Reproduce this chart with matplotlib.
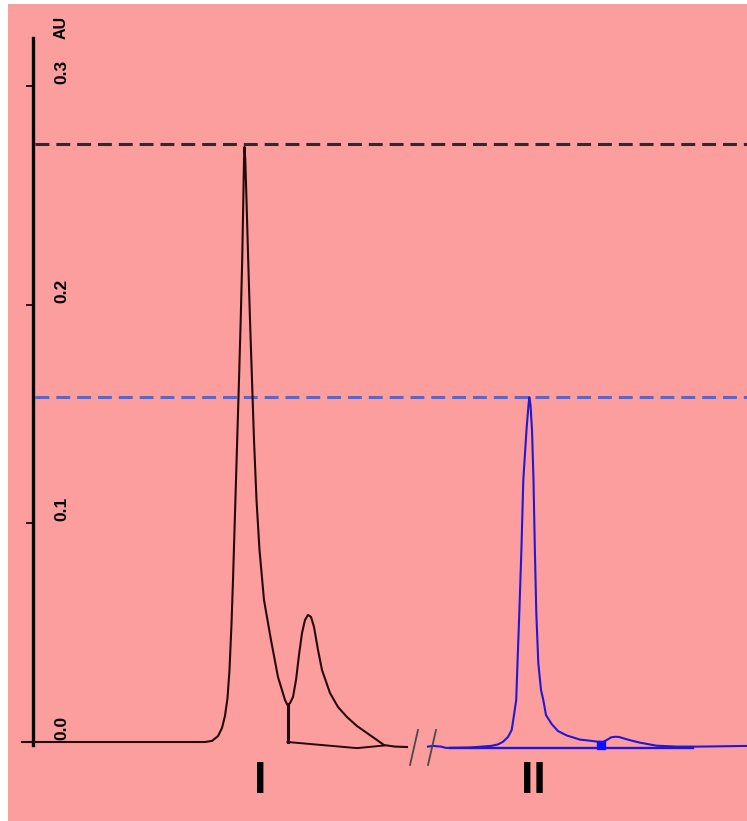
import numpy as np
import matplotlib
matplotlib.use("Agg")
import matplotlib.pyplot as plt
from matplotlib.patches import Rectangle

plt.rcParams['lines.scale_dashes'] = False

# ---------------- data ----------------
# Trace I (black): retention position (arbitrary units) and absorbance (AU)
trace1_x = [22, 100, 180, 205, 212, 218, 222, 225, 227.5, 229.5, 231.5, 233, 234.5,
            236, 237.5, 239, 240.7, 242.2, 243.3, 244, 244.5, 245.3, 246.5, 248.2,
            250, 252, 254, 256.5, 259.5, 264, 271, 278, 285, 287.5, 290, 293, 296,
            299, 302, 305, 308, 311, 314, 318, 322, 330, 338, 347, 357, 367, 377,
            384, 395, 407]
trace1_au = [0.0000, 0.0000, 0.0000, 0.0000, 0.0005, 0.0027, 0.0064, 0.0120, 0.0200,
             0.0330, 0.0540, 0.0741, 0.0969, 0.1198, 0.1427, 0.1655, 0.1930, 0.2204,
             0.2478, 0.2661, 0.2721, 0.2661, 0.2478, 0.2204, 0.1930, 0.1655, 0.1381,
             0.1107, 0.0878, 0.0649, 0.0466, 0.0297, 0.0192, 0.0169, 0.0178, 0.0206,
             0.0283, 0.0398, 0.0498, 0.0558, 0.0581, 0.0572, 0.0526, 0.0421, 0.0329,
             0.0224, 0.0160, 0.0114, 0.0073, 0.0041, 0.0009, -0.0014, -0.0021, -0.0023]
# skimmed baseline under the second peak of trace I
base1_x = [287.5, 357, 384]
base1_au = [0.0000, -0.0028, -0.0016]
# drop line position between the two peaks of trace I
drop1_x = 287.5

# Trace II (blue)
trace2_x = [428, 433, 441, 446, 470, 491, 498, 503, 508, 511.7, 514, 516.2, 517.5,
            519.3, 521.5, 523.3, 526.5, 528.5, 529.3, 530.5, 532, 533.5, 534.8, 536.3,
            538.3, 541, 543.3, 546, 551.7, 558, 566.7, 580, 590, 598.3, 603, 606.7,
            611, 615, 619, 623.3, 631, 640, 656.7, 676.7, 700, 747]
trace2_au = [-0.0021, -0.0018, -0.0021, -0.0027, -0.0025, -0.0018, -0.0011, 0.0001,
             0.0023, 0.0055, 0.0123, 0.0192, 0.0361, 0.0590, 0.0892, 0.1198, 0.1427,
             0.1541, 0.1577, 0.1541, 0.1427, 0.1198, 0.0892, 0.0590, 0.0361, 0.0238,
             0.0192, 0.0123, 0.0082, 0.0050, 0.0030, 0.0011, 0.0006, 0.0001, 0.0000,
             0.0009, 0.0021, 0.0024, 0.0023, 0.0017, 0.0007, -0.0003, -0.0017,
             -0.0021, -0.0021, -0.0018]
base2_x = [450, 693]
base2_au = [-0.0026, -0.0026]
marker2_x = [601]
marker2_au = [-0.0014]

# axis ticks
ytick_values = [0.0, 0.1, 0.2, 0.3]
ytick_labels = ["0.0", "0.1", "0.2", "0.3"]
y_unit = "AU"
peak_labels = ["I", "II"]
break_x = 418

# ---------------- figure ----------------
W, H, DPI = 747, 821, 100
fig = plt.figure(figsize=(W / DPI, H / DPI), dpi=DPI)
fig.patch.set_facecolor("white")
bg = "#FD9E9E"
fig.patches.append(Rectangle((8 / W, 0), 1 - 8 / W, 1 - 4 / H, transform=fig.transFigure,
                             facecolor=bg, edgecolor="none", zorder=-5))

ax = fig.add_axes([0, 0, 1, 1])
ax.set_facecolor("none")
ax.set_zorder(2)
px_per_au = 2187.0
y0_px = 742.0
ax.set_xlim(0, W)
ax.set_ylim(-(H - y0_px) / px_per_au, y0_px / px_per_au)

for s in ["top", "right", "bottom"]:
    ax.spines[s].set_visible(False)
ax.spines["left"].set_position(("data", 33))
ax.spines["left"].set_bounds(-3 / px_per_au, (y0_px - 38) / px_per_au)
ax.spines["left"].set_linewidth(2.4)
ax.spines["left"].set_color("black")
ax.set_xticks([])
ax.set_yticks(ytick_values)
ax.set_yticklabels([])
ax.tick_params(axis="y", direction="out", length=5, width=1.2, color="black")

lab_font = dict(family=["Liberation Sans", "DejaVu Sans"], weight="bold")
for v, t in zip(ytick_values, ytick_labels):
    ax.text(62, v + 14 / px_per_au, t, rotation=90, ha="center", va="center",
            fontsize=12.5, color="black", **lab_font)
ax.text(61, (y0_px - 27) / px_per_au, y_unit, rotation=90, ha="center", va="center",
        fontsize=11.5, color="black", **lab_font)

# reference dashed lines at peak heights
max1 = max(trace1_au)
max2 = max(trace2_au)
ax.plot([35, W], [max1 + 3 / px_per_au] * 2, color="#3a2626", lw=2.2,
        dashes=(10, 5), solid_capstyle="butt", zorder=2)
ax.plot([35, W], [max2] * 2, color="#4b69e1", lw=2.2,
        dashes=(10, 5), zorder=2)

# traces
ax.plot(trace1_x, trace1_au, color="#240a0a", lw=1.5, zorder=3)
ax.plot(base1_x, base1_au, color="#240a0a", lw=1.4, zorder=3)
valley = float(np.interp(drop1_x, trace1_x, trace1_au))
ax.plot([drop1_x, drop1_x], [0.0, valley], color="#240a0a", lw=2.2, zorder=3)

ax.plot(trace2_x, trace2_au, color="#2218d0", lw=1.5, zorder=3)
ax.plot(base2_x, base2_au, color="#2218d0", lw=1.7, zorder=3)
ax.plot(marker2_x, marker2_au, marker="s", ms=6, color="#1010ff", lw=0, zorder=4)

# axis-break marks
for dx in (-4, 14):
    ax.plot([break_x + dx - 4, break_x + dx + 4], [-23 / px_per_au, 12 / px_per_au],
            color="#4a4a4a", lw=1.3, zorder=3)

# peak labels
ax.text(260, -39 / px_per_au, peak_labels[0], ha="center", va="center",
        fontsize=32, color="black", **lab_font)
ax.text(533, -39 / px_per_au, peak_labels[1], ha="center", va="center",
        fontsize=32, color="black", **lab_font)

fig.savefig("out.png", dpi=DPI, facecolor=fig.get_facecolor())
